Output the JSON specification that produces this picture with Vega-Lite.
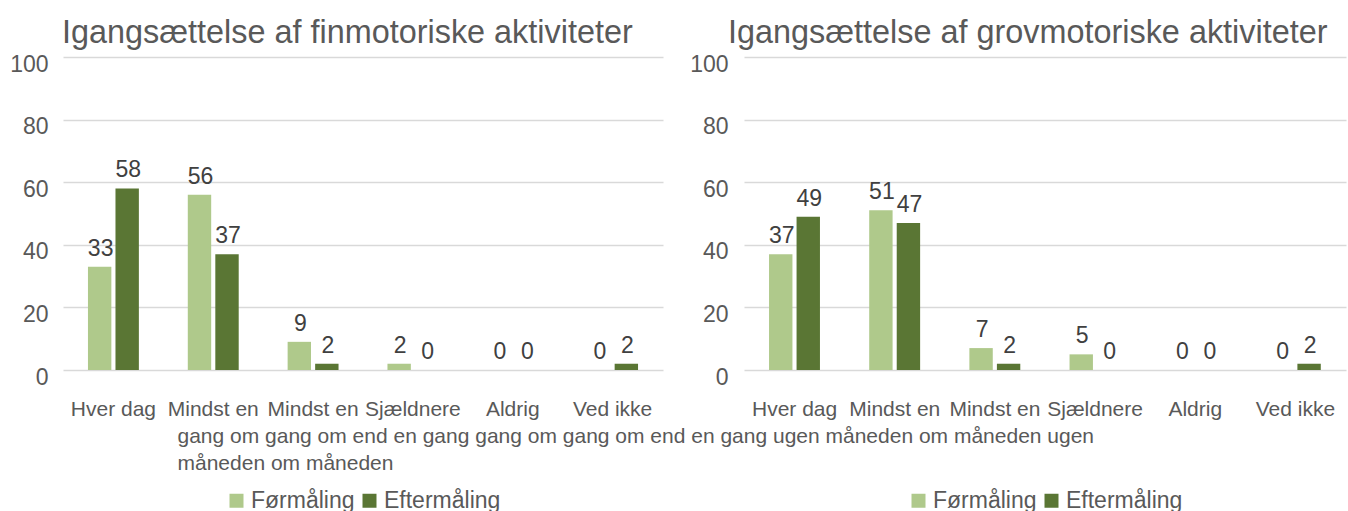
{
  "$schema": "https://vega.github.io/schema/vega-lite/v6.json",
  "padding": {"left": 9, "top": 16, "right": 2, "bottom": 0},
  "bounds": "flush",
  "spacing": 81,
  "config": {
    "view": {"stroke": null},
    "font": "Liberation Sans",
    "axis": {"gridColor": "#d9d9d9", "gridWidth": 1.5, "labelColor": "#595959"},
    "legend": {"layout": {"bottom": {"anchor": "middle"}}},
    "title": {"fontSize": 32.4, "fontWeight": "normal", "color": "#595959", "anchor": "start", "frame": "group", "baseline": "alphabetic", "offset": 4}
  },
  "datasets": {
    "fin": [
      {"kategori": "Hver dag", "maaling": "Førmåling", "pct": 33},
      {"kategori": "Hver dag", "maaling": "Eftermåling", "pct": 58},
      {"kategori": "Mindst en gang om ugen", "maaling": "Førmåling", "pct": 56},
      {"kategori": "Mindst en gang om ugen", "maaling": "Eftermåling", "pct": 37},
      {"kategori": "Mindst en gang om måneden", "maaling": "Førmåling", "pct": 9},
      {"kategori": "Mindst en gang om måneden", "maaling": "Eftermåling", "pct": 2},
      {"kategori": "Sjældnere end en gang om måneden", "maaling": "Førmåling", "pct": 2},
      {"kategori": "Sjældnere end en gang om måneden", "maaling": "Eftermåling", "pct": 0},
      {"kategori": "Aldrig", "maaling": "Førmåling", "pct": 0},
      {"kategori": "Aldrig", "maaling": "Eftermåling", "pct": 0},
      {"kategori": "Ved ikke", "maaling": "Førmåling", "pct": 0},
      {"kategori": "Ved ikke", "maaling": "Eftermåling", "pct": 2}
    ],
    "grov": [
      {"kategori": "Hver dag", "maaling": "Førmåling", "pct": 37},
      {"kategori": "Hver dag", "maaling": "Eftermåling", "pct": 49},
      {"kategori": "Mindst en gang om ugen", "maaling": "Førmåling", "pct": 51},
      {"kategori": "Mindst en gang om ugen", "maaling": "Eftermåling", "pct": 47},
      {"kategori": "Mindst en gang om måneden", "maaling": "Førmåling", "pct": 7},
      {"kategori": "Mindst en gang om måneden", "maaling": "Eftermåling", "pct": 2},
      {"kategori": "Sjældnere end en gang om måneden", "maaling": "Førmåling", "pct": 5},
      {"kategori": "Sjældnere end en gang om måneden", "maaling": "Eftermåling", "pct": 0},
      {"kategori": "Aldrig", "maaling": "Førmåling", "pct": 0},
      {"kategori": "Aldrig", "maaling": "Eftermåling", "pct": 0},
      {"kategori": "Ved ikke", "maaling": "Førmåling", "pct": 0},
      {"kategori": "Ved ikke", "maaling": "Eftermåling", "pct": 2}
    ]
  },
  "resolve": {"legend": {"color": "independent"}},
  "hconcat": [
    {
      "width": 600,
      "height": 313,
      "data": {"name": "fin"},
      "title": {"text": "Igangsættelse af finmotoriske aktiviteter", "dx": -1},
      "encoding": {
        "x": {
          "field": "kategori", "type": "nominal", "sort": null,
          "scale": {"paddingInner": 0.49, "paddingOuter": 0.25},
          "axis": {
            "domain": false, "ticks": false, "tickSize": 0, "labelAngle": 0,
            "labelFontSize": 21, "labelBaseline": "alphabetic", "labelPadding": 45,
            "labelExpr": "indexof(datum.label, 'Mindst') == 0 ? 'Mindst en' : indexof(datum.label, 'Sjældnere') == 0 ? 'Sjældnere' : datum.label",
            "title": ["gang om gang om end en gang gang om gang om end en gang ugen måneden om måneden ugen", "\u00a0\u00a0måneden om måneden"],
            "titleFontSize": 21, "titleFontWeight": "normal", "titleColor": "#595959",
            "titleAlign": "left", "titleBaseline": "alphabetic", "titleAnchor": "start",
            "titleX": 114, "titleY": 72, "titleLineHeight": 27
          }
        },
        "xOffset": {"field": "maaling", "type": "nominal", "sort": ["Førmåling", "Eftermåling"], "scale": {"paddingInner": 0.15}},
        "y": {
          "field": "pct", "type": "quantitative", "scale": {"domain": [0, 100]},
          "axis": {"values": [0, 20, 40, 60, 80, 100], "title": null, "domain": false, "ticks": false, "tickSize": 0,
                   "labelFontSize": 23, "labelPadding": 15, "labelBaseline": "alphabetic", "labelOffset": 14, "labelFlush": false}
        }
      },
      "layer": [
        {
          "mark": {"type": "bar"},
          "encoding": {
            "color": {
              "field": "maaling", "type": "nominal", "sort": ["Førmåling", "Eftermåling"],
              "scale": {"domain": ["Førmåling", "Eftermåling"], "range": ["#afc98b", "#5a7634"]},
              "legend": {"orient": "bottom", "direction": "horizontal", "title": null, "symbolType": "square", "symbolSize": 196, "symbolStrokeWidth": 0,
                         "labelFontSize": 23, "labelColor": "#595959", "labelOffset": 3, "columnPadding": 3, "offset": 16}
            }
          }
        },
        {
          "mark": {"type": "text", "baseline": "alphabetic", "dy": -11, "dx": 1, "fontSize": 23, "color": "#404040"},
          "encoding": {"text": {"field": "pct", "type": "quantitative"}}
        }
      ]
    },
    {
      "width": 602,
      "height": 313,
      "data": {"name": "grov"},
      "title": {"text": "Igangsættelse af grovmotoriske aktiviteter", "dx": -16},
      "encoding": {
        "x": {
          "field": "kategori", "type": "nominal", "sort": null,
          "scale": {"paddingInner": 0.49, "paddingOuter": 0.25},
          "axis": {
            "domain": false, "ticks": false, "tickSize": 0, "labelAngle": 0,
            "labelFontSize": 21, "labelBaseline": "alphabetic", "labelPadding": 45,
            "labelExpr": "indexof(datum.label, 'Mindst') == 0 ? 'Mindst en' : indexof(datum.label, 'Sjældnere') == 0 ? 'Sjældnere' : datum.label",
            "title": null
          }
        },
        "xOffset": {"field": "maaling", "type": "nominal", "sort": ["Førmåling", "Eftermåling"], "scale": {"paddingInner": 0.15}},
        "y": {
          "field": "pct", "type": "quantitative", "scale": {"domain": [0, 100]},
          "axis": {"values": [0, 20, 40, 60, 80, 100], "title": null, "domain": false, "ticks": false, "tickSize": 0,
                   "labelFontSize": 23, "labelPadding": 16, "labelBaseline": "alphabetic", "labelOffset": 14, "labelFlush": false}
        }
      },
      "layer": [
        {
          "mark": {"type": "bar"},
          "encoding": {
            "color": {
              "field": "maaling", "type": "nominal", "sort": ["Førmåling", "Eftermåling"],
              "scale": {"domain": ["Førmåling", "Eftermåling"], "range": ["#afc98b", "#5a7634"]},
              "legend": {"orient": "bottom", "direction": "horizontal", "title": null, "symbolType": "square", "symbolSize": 196, "symbolStrokeWidth": 0,
                         "labelFontSize": 23, "labelColor": "#595959", "labelOffset": 3, "columnPadding": 3, "offset": 70}
            }
          }
        },
        {
          "mark": {"type": "text", "baseline": "alphabetic", "dy": -11, "dx": 1, "fontSize": 23, "color": "#404040"},
          "encoding": {"text": {"field": "pct", "type": "quantitative"}}
        }
      ]
    }
  ]
}
